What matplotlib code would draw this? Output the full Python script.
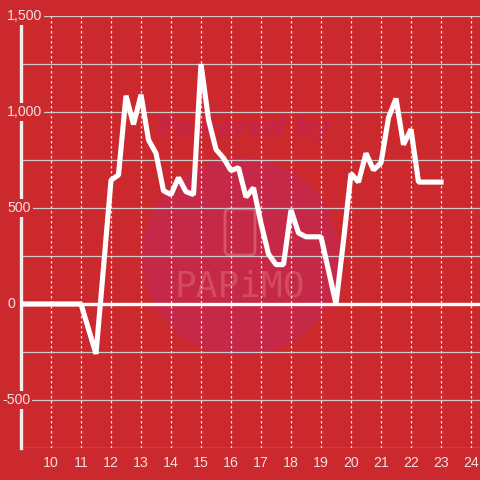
import numpy as np
import matplotlib
matplotlib.use("Agg")
import matplotlib.pyplot as plt
from matplotlib.patches import Ellipse, FancyBboxPatch

# data: quarter-hour values
hours = [9.0, 9.25, 9.5, 9.75, 10.0, 10.25, 10.5, 10.75, 11.0, 11.25, 11.5, 11.75,
         12.0, 12.25, 12.5, 12.75, 13.0, 13.25, 13.5, 13.75, 14.0, 14.25, 14.5, 14.75,
         15.0, 15.25, 15.5, 15.75, 16.0, 16.25, 16.5, 16.75, 17.0, 17.25, 17.5, 17.75,
         18.0, 18.25, 18.5, 18.75, 19.0, 19.25, 19.5, 19.75, 20.0, 20.25, 20.5, 20.75,
         21.0, 21.25, 21.5, 21.75, 22.0, 22.25, 22.5, 22.75, 23.0]
values = [0, 0, 0, 0, 0, 0, 0, 0, 0, -130, -260, 190,
          645, 672, 1085, 935, 1090, 855, 785, 590, 570, 658, 585, 570,
          1250, 960, 805, 760, 695, 710, 557, 605, 420, 260, 205, 205,
          490, 370, 350, 350, 350, 175, 0, 330, 680, 635, 785, 698,
          735, 970, 1070, 830, 910, 635, 635, 635, 635]

x_ticks = list(range(10, 25))
y_grid = [1500, 1250, 1000, 750, 500, 250, -250, -500, -750]
y_ticks = [1500, 1000, 500, 0, -500]
y_labels = ['1,500', '1,000', '500', '0', '-500']

bg = '#cc292e'
txt = '#f3dede'

plt.rcParams['font.family'] = ['Liberation Sans', 'DejaVu Sans']

fig = plt.figure(figsize=(4.8, 4.8), dpi=100, facecolor=bg)
ax = fig.add_axes([21/480, 32/480, 459/480, 432/480])
ax.set_facecolor(bg)
ax.set_xlim(9, 24.3)
ax.set_ylim(-750, 1500)

# watermark
ax.add_patch(Ellipse((16.33, 245), 6.6, 1031, facecolor='#c62847', edgecolor='none', zorder=0.5))
ax.add_patch(FancyBboxPatch((15.8, 255), 1.0, 240, boxstyle='round,pad=0,rounding_size=0.15',
                            mutation_aspect=500/96*30/30 * 1.0 * 3.2 * 10,
                            facecolor='none', edgecolor='#d55565', lw=2, zorder=0.6))
ax.text(16.4, 910, 'Powered by', fontsize=19, fontweight='bold', style='italic',
        color='#c4264a', ha='center', va='center', family='DejaVu Sans', zorder=0.6)
ax.text(16.3, 90, 'PAPiMO', fontsize=26, fontweight='light', color='#d24c5d',
        ha='center', va='center', family='DejaVu Sans Mono', zorder=0.6)

# grid
for y in y_grid:
    ax.axhline(y, color='#cfc8c8', lw=0.9, zorder=1)
for x in x_ticks:
    ax.axvline(x, color='#ece4e4', lw=0.9, ls=(0, (2, 2)), zorder=1)
ax.axhline(0, color='white', lw=2.4, zorder=1.5)

ax.plot(hours, values, color='white', lw=3.7, solid_joinstyle='bevel', zorder=3)

for s in ['top', 'right', 'bottom']:
    ax.spines[s].set_visible(False)
ax.spines['left'].set_color('#f4f0f0')
ax.spines['left'].set_linewidth(2.4)
ax.spines['left'].set_zorder(2.5)

ax.set_yticks([])
ax.set_xticks(x_ticks)
ax.set_xticklabels([str(x) for x in x_ticks], fontsize=10.2, color=txt)
ax.tick_params(axis='x', length=0, pad=6)

# y labels drawn over the axis line
trans = ax.get_yaxis_transform().__class__(fig.transFigure, ax.transData)
for y, lab in zip(y_ticks, y_labels):
    xpix = 2 if lab.startswith('-') else 7
    ax.text(xpix/480, y, lab, transform=trans,
            fontsize=10.2, color=txt, ha='left', va='center', zorder=5, clip_on=False,
            bbox=dict(facecolor=bg, edgecolor='none', pad=1.5))

fig.savefig('out.png', dpi=100, facecolor=bg)
